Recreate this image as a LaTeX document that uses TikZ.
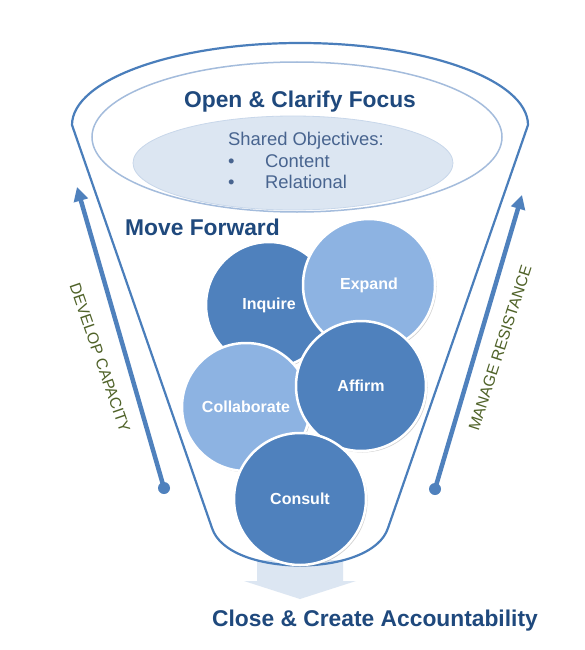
\documentclass[tikz,border=0pt]{standalone}
\usepackage{fontspec}
\setmainfont{Liberation Sans}
\usetikzlibrary{arrows.meta,shadows}
\definecolor{cfunnel}{HTML}{4A7EBB}
\definecolor{cinner}{HTML}{A4BCDC}
\definecolor{cfill}{HTML}{DCE6F2}
\definecolor{cdark}{HTML}{4F81BD}
\definecolor{clight}{HTML}{8DB3E2}
\definecolor{ctitle}{HTML}{1F497D}
\definecolor{ctext}{HTML}{48648F}
\definecolor{colive}{HTML}{4F6228}
\definecolor{carrow}{HTML}{4F81BD}
\definecolor{cdown}{HTML}{DCE6F2}
\begin{document}
\begin{tikzpicture}[x=1pt,y=-1pt,
  bubble/.style={circle, draw=white, line width=2.5pt, minimum size=#1, inner sep=0pt,
    font=\fontsize{16}{19}\selectfont\bfseries, text=white,
    drop shadow={opacity=0.35, shadow xshift=1.5pt, shadow yshift=-1.5pt}},
  darkb/.style={fill=cdark},
  lightb/.style={fill=clight},
  titletext/.style={font=\fontsize{22.8}{26}\selectfont\bfseries, text=ctitle, inner sep=0pt},
  bodytext/.style={font=\fontsize{18.4}{22}\selectfont, text=ctext, inner sep=0pt},
  sidetext/.style={font=\fontsize{15.8}{18}\selectfont, text=colive, inner sep=0pt},
  sidearrow/.style={draw=carrow, line width=4.5pt, -{Triangle[width=14pt,length=14pt]}},
  dotnode/.style={circle, fill=carrow, minimum size=12pt, inner sep=0pt},
  funnelline/.style={draw=cfunnel, line width=2.2pt, line join=round},
]
\useasboundingbox (0,0) rectangle (584,650);
\fill[white] (0,0) rectangle (584,650);

% down arrow below the funnel
\fill[cdown] (257,560) -- (343,560) -- (343,581) -- (356,581) -- (300,599) -- (244,581) -- (257,581) -- cycle;

% funnel outline
\draw[funnelline] (72,125) .. controls (72,80) and (174,43) .. (300,43)
  .. controls (426,43) and (528,80) .. (528,125)
  -- (388,528) .. controls (372,578) and (228,578) .. (212,528) -- cycle;

% inner ellipses
\draw[cinner, line width=1.5pt] (297,137) ellipse [x radius=205pt, y radius=75pt];
\filldraw[fill=cfill, draw=cinner!60, line width=0.8pt] (293,163) ellipse [x radius=160pt, y radius=47pt];

% texts at top
\node[titletext, anchor=base] (open) at (300,108) {Open \& Clarify Focus};
\node[bodytext, anchor=base west] (shared) at (228,145) {Shared Objectives:};
\node[bodytext, anchor=base west] (b1) at (228,167) {•};
\node[bodytext, anchor=base west] (content) at (265,167) {Content};
\node[bodytext, anchor=base west] (b2) at (228,188) {•};
\node[bodytext, anchor=base west] (relational) at (265,188) {Relational};
\node[titletext, anchor=base west] (move) at (125,235) {Move Forward};

% circles
\node[bubble=126pt, darkb] (inquire) at (269,305) {Inquire};
\node[bubble=132pt, lightb] (expand) at (369,285) {Expand};
\node[bubble=128pt, lightb] (collab) at (246,407) {Collaborate};
\node[bubble=130pt, darkb] (affirm) at (361,386) {Affirm};
\node[bubble=132pt, darkb] (consult) at (300,499) {Consult};

% side arrows
\node[dotnode] (ldot) at (164,488) {};
\coordinate (ltip) at (77,187);
\draw[sidearrow] (ldot.center) -- (ltip);
\node[dotnode] (rdot) at (435,489) {};
\coordinate (rtip) at (522,195);
\draw[sidearrow] (rdot.center) -- (rtip);

\node[sidetext, rotate=-71] (develop) at (100,358) {DEVELOP CAPACITY};
\node[sidetext, rotate=72] (manage) at (500,348) {MANAGE RESISTANCE};

% bottom title
\node[titletext, anchor=base] (close) at (375,626) {Close \& Create Accountability};
\end{tikzpicture}
\end{document}
